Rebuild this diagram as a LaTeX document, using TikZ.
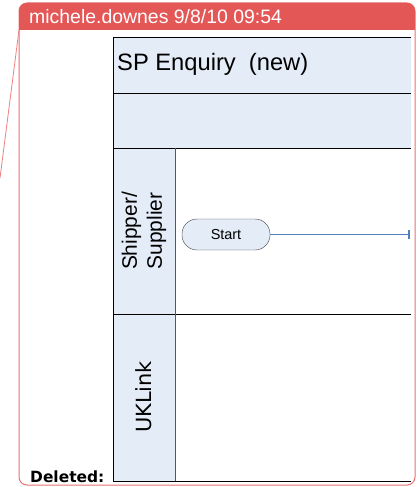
\documentclass[tikz,border=0pt]{standalone}
\usepackage{fontspec}
\setmainfont{Liberation Sans}
\newfontfamily\dejavu{DejaVu Sans}
\usetikzlibrary{arrows.meta}
\definecolor{notered}{RGB}{227,87,87}
\definecolor{laneblue}{RGB}{228,236,247}
\definecolor{flowblue}{RGB}{79,129,189}
\begin{document}
\begin{tikzpicture}[x=1bp,y=-1bp]
    \tikzstyle{lanetext}=[inner sep=0pt, rotate=90, align=center]
    \tikzstyle{terminal}=[draw=black!75, fill=laneblue, rounded corners=15bp,
                          minimum width=88bp, minimum height=31bp]
    \useasboundingbox (0,0) rectangle (418,487);

    % comment balloon
    \draw[notered!85, line width=1bp, rounded corners=8bp] (19,3) rectangle (415,485);
    \fill[notered] (19,30) -- (19,11) arc (180:270:8) -- (407,3)
                   arc (270:360:8) -- (415,30) -- cycle;
    \node[text=white, anchor=base west, inner sep=0pt,
          font=\fontsize{19.5}{22}\selectfont] (author) at (29,24) {michele.downes 9/8/10 09:54};
    \coordinate (corner) at (19,30);
    \coordinate (target) at (0,178);
    \draw[notered!75, line width=0.8bp] (corner) -- (target);

    % swimlanes
    \fill[laneblue] (113,37)  rectangle (411,148);
    \fill[laneblue] (113,148) rectangle (175,481);
    \draw[line width=0.8bp] (411,37)  -- (113,37) -- (113,481) -- (411,481)
                            (113,93)  -- (411,93)
                            (113,148) -- (411,148)
                            (113,314) -- (411,314);
    \draw[black!65, line width=0.8bp] (175,148) -- (175,481);

    \node[anchor=base west, inner sep=0pt, font=\fontsize{23.8}{28}\selectfont]
          (title) at (117,71) {SP Enquiry\ \ (new)};
    \node[lanetext, font=\fontsize{21}{25}\selectfont] (shipper) at (144,231) {Shipper/\\Supplier};
    \node[lanetext, font=\dejavu\fontsize{21}{25}\selectfont] (uklink) at (144,397) {UKLink};

    % flow
    \node[terminal, font=\fontsize{14.5}{17}\selectfont] (start) at (226,234.5) {Start};
    \coordinate (laneend) at (410,234.5);
    \draw[flowblue, line width=1bp, -{Bar[width=9bp,line width=2.5bp]}] (start.east) -- (laneend);

    \node[anchor=base west, inner sep=0pt, font=\dejavu\bfseries\fontsize{15.5}{18}\selectfont]
          (deleted) at (30,482) {Deleted:};
\end{tikzpicture}
\end{document}
